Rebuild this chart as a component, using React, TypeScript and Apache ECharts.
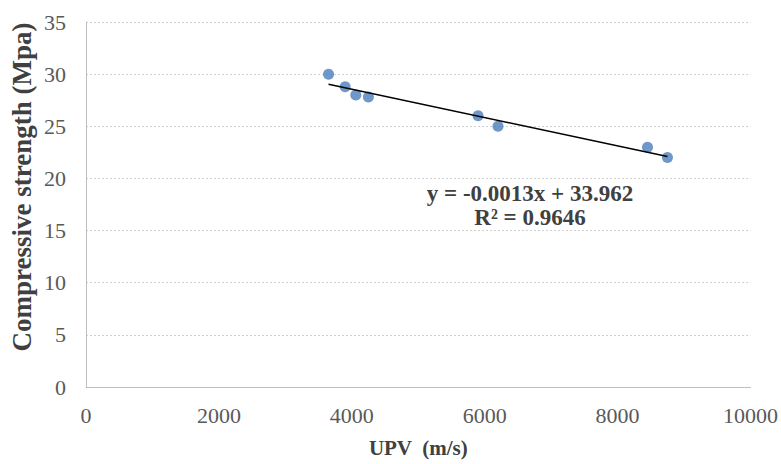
import React, { useEffect, useRef } from "react";
import * as echarts from "echarts";

const upv = [3650, 3900, 4060, 4250, 5900, 6200, 8450, 8750];
const strength = [30, 28.8, 28, 27.8, 26, 25, 23, 22];
const xTicks = [0, 2000, 4000, 6000, 8000, 10000];
const yTicks = [0, 5, 10, 15, 20, 25, 30, 35];
const equationText = "y = -0.0013x + 33.962";
const r2Text = "R\u00b2 = 0.9646";

function fit(xs: number[], ys: number[]) {
  const n = xs.length;
  const mx = xs.reduce((a, b) => a + b, 0) / n;
  const my = ys.reduce((a, b) => a + b, 0) / n;
  let sxy = 0, sxx = 0;
  for (let i = 0; i < n; i++) {
    sxy += (xs[i] - mx) * (ys[i] - my);
    sxx += (xs[i] - mx) * (xs[i] - mx);
  }
  const slope = sxy / sxx;
  return { slope, intercept: my - slope * mx };
}

export default function App() {
  const ref = useRef<HTMLDivElement>(null);
  useEffect(() => {
    if (!ref.current) return;
    const chart = echarts.init(ref.current, undefined, { renderer: "svg" });
    const { slope, intercept } = fit(upv, strength);
    const xmin = Math.min(...upv);
    const xmax = Math.max(...upv);
    const serif = '"Liberation Serif", "Times New Roman", serif';
    chart.setOption({
      animation: false,
      backgroundColor: "#ffffff",
      grid: { left: 86, right: 29, top: 22, bottom: 77, containLabel: false },
      xAxis: {
        type: "value",
        min: xTicks[0],
        max: xTicks[xTicks.length - 1],
        interval: 2000,
        name: "UPV  (m/s)",
        nameLocation: "middle",
        nameGap: 50,
        nameTextStyle: { fontFamily: serif, fontWeight: "bold", fontSize: 21, color: "#404040" },
        axisLine: { show: true, lineStyle: { color: "#bfbfbf", width: 1 } },
        axisTick: { show: false },
        splitLine: { show: false },
        axisLabel: {
          color: "#595959",
          fontFamily: serif,
          fontSize: 22,
          margin: 17,
          formatter: (v: number) => String(v),
        },
      },
      yAxis: {
        type: "value",
        min: yTicks[0],
        max: yTicks[yTicks.length - 1],
        interval: 5,
        axisLine: { show: true, lineStyle: { color: "#bfbfbf", width: 1 } },
        axisTick: { show: false },
        splitLine: { show: true, lineStyle: { color: "#d0d0d0", type: [2, 2], width: 1 } },
        axisLabel: {
          color: "#595959",
          fontFamily: serif,
          fontSize: 22,
          margin: 20,
          formatter: (v: number) => String(v),
        },
      },
      graphic: [
        {
          type: "text",
          x: 22,
          y: 187,
          rotation: Math.PI / 2,
          style: {
            text: "Compressive strength (Mpa)",
            fontFamily: serif,
            fontWeight: "bold",
            fontSize: 27,
            fill: "#404040",
            align: "center",
            verticalAlign: "middle",
          },
        },
        {
          type: "text",
          x: 530,
          y: 193,
          style: {
            text: equationText,
            fontFamily: serif,
            fontWeight: "bold",
            fontSize: 23,
            fill: "#404040",
            align: "center",
            verticalAlign: "middle",
          },
        },
        {
          type: "text",
          x: 530,
          y: 217,
          style: {
            text: r2Text,
            fontFamily: serif,
            fontWeight: "bold",
            fontSize: 23,
            fill: "#404040",
            align: "center",
            verticalAlign: "middle",
          },
        },
      ],
      series: [
        {
          type: "line",
          data: [
            [xmin, slope * xmin + intercept],
            [xmax, slope * xmax + intercept],
          ],
          symbol: "none",
          lineStyle: { color: "#000000", width: 1.5 },
          z: 3,
        },
        {
          type: "scatter",
          data: upv.map((x, i) => [x, strength[i]]),
          symbolSize: 11,
          itemStyle: { color: "#4a7ebb" },
          z: 2,
        },
      ],
    });
    return () => chart.dispose();
  }, []);
  return (
    <div
      ref={ref}
      style={{ position: "fixed", left: 0, top: 0, width: 781, height: 464 }}
    />
  );
}
